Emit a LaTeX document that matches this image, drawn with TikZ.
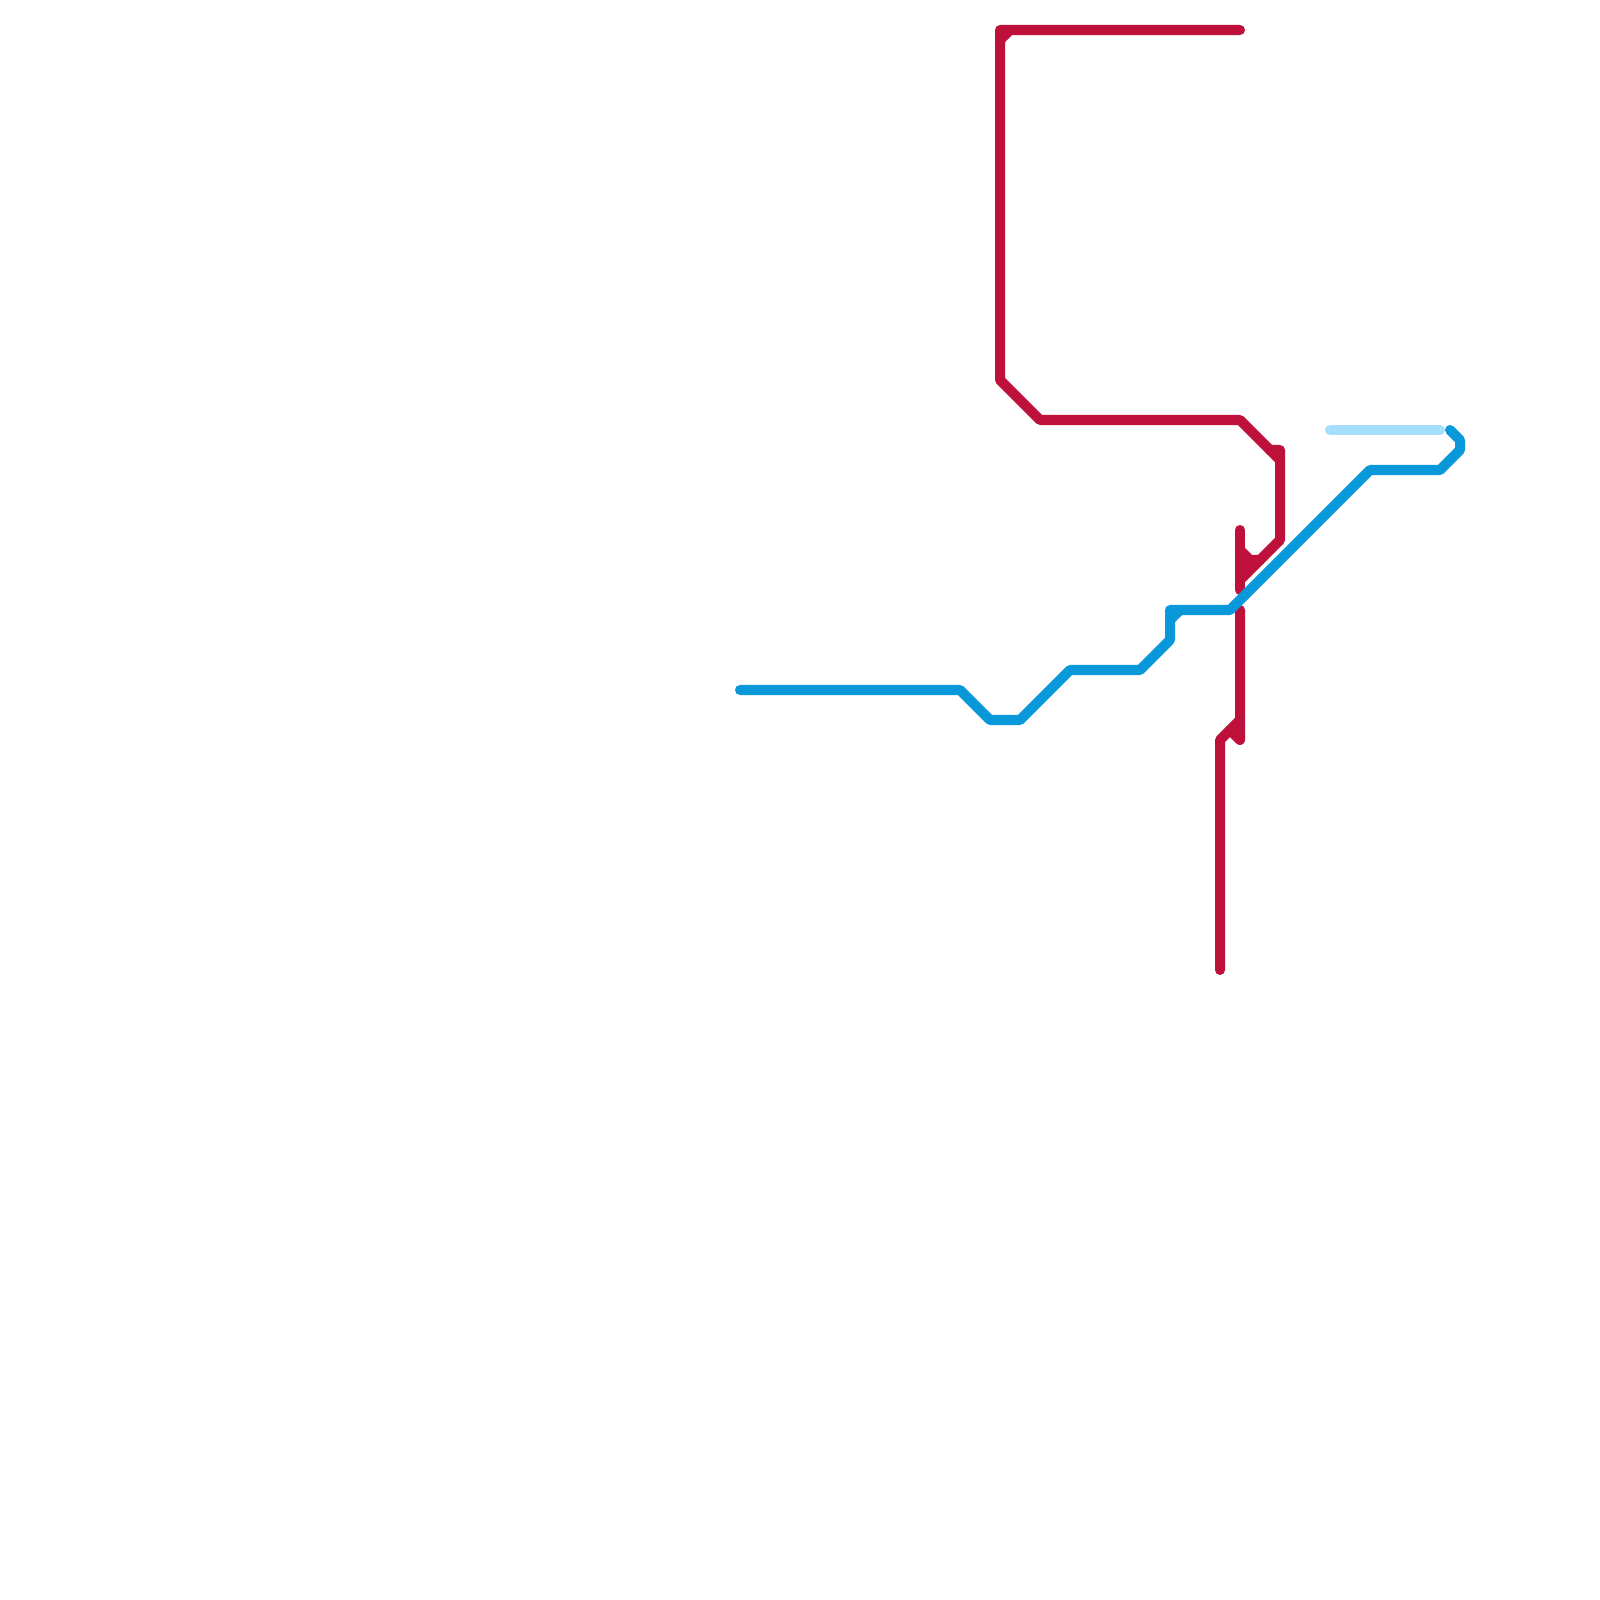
\documentclass[tikz,border=0pt]{standalone}
\usepackage{tikz}
\usetikzlibrary{positioning}

\begin{document}
\begin{tikzpicture}[%
x=0.01cm, y=-0.01cm,
red-line/.style={draw=red-col, line width=2.85pt, line cap=round, line join=round},
blue-line/.style={draw=blue-col, line width=2.85pt, line cap=round, line join=round},
pale-line/.style={draw=pale-col, line width=2.85pt, line cap=round, line join=round}
]
\definecolor{red-col}{RGB}{189,16,58}
\definecolor{blue-col}{RGB}{9,153,219}
\definecolor{pale-col}{RGB}{166,222,255}
\useasboundingbox (0,0) rectangle (1600,1600);
\draw[red-line] (1240,30) -- (1000,30) -- (1000,380) -- (1040,420) -- (1240,420) -- (1280,460);
\draw[red-line] (1000,40) -- (1010,30);
\draw[red-line] (1270,450) -- (1280,450) -- (1280,540) -- (1240,580);
\draw[red-line] (1240,530) -- (1240,590);
\draw[red-line] (1240,550) -- (1250,560) -- (1260,560);
\draw[red-line] (1240,570) -- (1250,560);
\draw[red-line] (1240,610) -- (1240,740) -- (1230,730);
\draw[red-line] (1240,720) -- (1220,740) -- (1220,970);
\draw[pale-line] (1330,430) -- (1440,430);
\draw[blue-line] (740,690) -- (960,690) -- (990,720) -- (1020,720) -- (1070,670) -- (1140,670) -- (1170,640) -- (1170,610) -- (1230,610) -- (1370,470) -- (1440,470) -- (1460,450) -- (1460,440) -- (1450,430);
\draw[blue-line] (1170,620) -- (1180,610);
\end{tikzpicture}
\end{document}
